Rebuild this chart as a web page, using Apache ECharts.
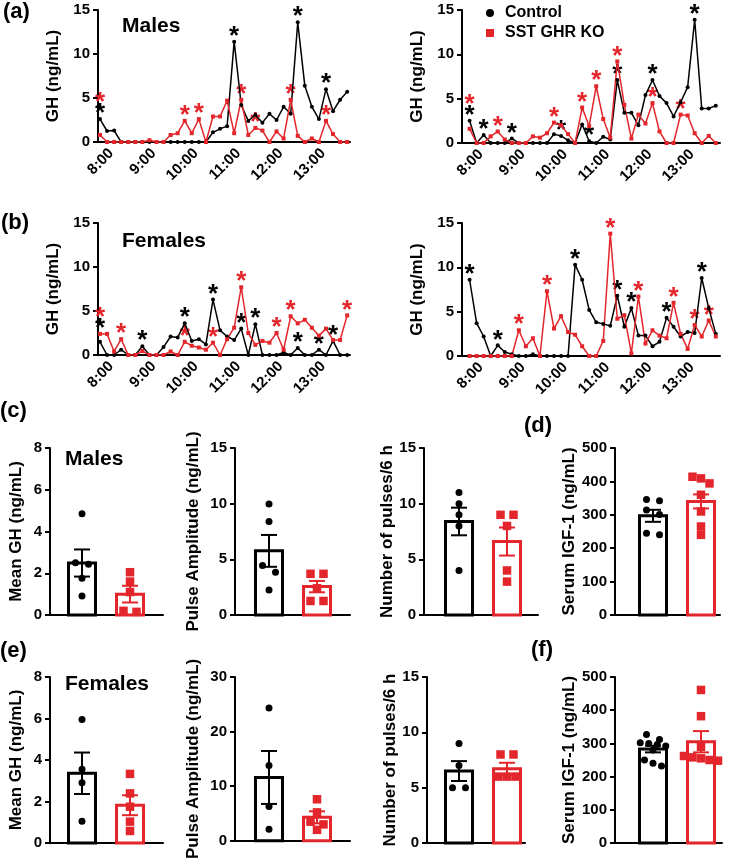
<!DOCTYPE html>
<html>
<head>
<meta charset="utf-8">
<script src="https://cdn.jsdelivr.net/npm/echarts@6/dist/echarts.min.js"></script>
<style>
  html, body { margin: 0; padding: 0; background: #fff; }
  #main { width: 735px; height: 861px; }
</style>
</head>
<body>
<div id="main"></div>
<script>
var RED = "#e3262b";
var FONT = "Liberation Sans";

// sampling every 10 min, 8:00 .. 13:50
var timeTicks = [0, 6, 12, 18, 24, 30];
var timeLabels = ["8:00", "9:00", "10:00", "11:00", "12:00", "13:00"];

// (a) males, GH ng/mL
var maleCtrl1 = [2.6, 1.25, 1.3, 0, 0, 0, 0, 0, 0, 0, 0, 0, 0, 0, 0, 0, 1.1, 1.5, 1.8, 11.4, 4.2, 2.4, 3.1, 2.2, 3.2, 2.5, 4.0, 3.2, 13.6, 6.4, 4.0, 2.6, 6.0, 3.5, 4.8, 5.7];
var maleKo1 = [0.8, 0, 0, 0, 0, 0, 0, 0.2, 0, 0, 0.8, 1.0, 2.4, 1.0, 2.6, 0, 2.9, 2.9, 4.7, 1.0, 4.8, 0.8, 1.6, 1.3, 0, 1.2, 0.4, 4.8, 0.7, 0, 0.4, 0, 2.4, 0.9, 0, 0];
var maleCtrl2 = [2.5, 0, 0.9, 0, 0, 0, 0.5, 0, 0, 0, 0, 0, 1.0, 0.8, 0.3, 0, 2.1, 0.2, 0, 0.7, 0.4, 7.1, 3.4, 3.4, 2.0, 5.4, 7.1, 5.3, 4.5, 3.0, 4.6, 6.3, 13.9, 3.9, 3.9, 4.2];
var maleKo2 = [1.6, 0, 0, 0.75, 1.3, 0.4, 0, 0, 0, 0.75, 0.6, 1.1, 2.3, 2.0, 1.0, 0, 4.0, 1.9, 6.4, 2.7, 0.6, 9.2, 4.3, 0.5, 3.2, 2.2, 4.5, 1.3, 0, 0, 3.2, 3.1, 1.1, 0, 0.8, 0];
// (b) females
var femaleCtrl1 = [1.5, 0, 0, 0.6, 0, 0, 1.0, 0, 0, 0.9, 2.1, 2.0, 3.6, 1.6, 1.8, 1.2, 6.3, 2.8, 2.1, 1.7, 3.0, 0, 3.5, 0, 0, 0, 0.3, 0, 0.8, 0, 0, 0.6, 0, 1.6, 0, 0];
var femaleKo1 = [2.4, 2.4, 0.4, 1.8, 0, 0, 0.45, 0, 0, 0, 0.4, 0, 1.5, 1.05, 0.85, 0.6, 1.4, 0, 1.8, 3.1, 7.7, 2.5, 1.15, 1.6, 1.4, 2.5, 0.6, 4.4, 3.6, 4.0, 3.1, 2.2, 3.0, 1.7, 1.7, 4.5];
var femaleCtrl2 = [8.6, 3.7, 2.2, 0, 1.2, 0.45, 0.2, 0, 0, 0.2, 0, 0, 0, 0, 0, 10.3, 8.6, 5.2, 3.8, 3.6, 3.4, 6.8, 3.3, 5.4, 2.3, 2.3, 1.1, 1.6, 4.3, 3.3, 2.2, 2.7, 2.6, 8.8, 5.4, 2.5];
var femaleKo2 = [0, 0, 0, 0, 0, 0, 0, 2.9, 1.1, 2.0, 0, 7.3, 3.1, 4.5, 2.7, 2.4, 1.1, 0, 0, 1.7, 13.8, 4.2, 4.6, 0.3, 6.7, 1.4, 2.9, 2.3, 2.0, 6.0, 2.5, 0.8, 3.5, 2.2, 4.0, 2.2];

// sample indices marked as pulses (*)
var maleCtrlPulse1 = [0, 19, 28, 32];
var maleKoPulse1 = [0, 12, 14, 20, 22, 27, 32];
var maleCtrlPulse2 = [0, 2, 6, 13, 17, 21, 26, 32];
var maleKoPulse2 = [0, 4, 12, 16, 18, 21, 26, 30];
var femaleCtrlPulse1 = [0, 6, 12, 16, 20, 22, 28, 31, 33];
var femaleKoPulse1 = [0, 3, 12, 16, 20, 25, 27, 35];
var femaleCtrlPulse2 = [0, 4, 15, 21, 23, 28, 33];
var femaleKoPulse2 = [7, 11, 20, 24, 29, 32, 34];

// (c) males: individual values, bar means and SEM [control, KO]
var cMeanCtrl = [4.85, 2.5, 2.43, 1.76, 0.91];
var cMeanKo = [2.05, 1.6, 1.1, 0.2, 0.15];
var cMeanBar = [2.49, 1.0];
var cMeanSem = [0.65, 0.4];
var cAmpCtrl = [9.96, 8.4, 4.44, 3.84, 2.25];
var cAmpKo = [3.7, 3.7, 2.4, 1.26, 1.26];
var cAmpBar = [5.76, 2.55];
var cAmpSem = [1.43, 0.51];
var cNumCtrl = [11, 10, 9, 8, 4];
var cNumKo = [9, 9, 8, 4, 3];
var cNumBar = [8.4, 6.6];
var cNumSem = [1.24, 1.26];
// (d) males IGF-1
var dIgfCtrl = [346, 342, 314, 301, 245, 240];
var dIgfKo = [414, 409, 394, 360, 310, 265, 240];
var dIgfBar = [297, 340];
var dIgfSem = [18, 21];
// (e) females
var eMeanCtrl = [5.95, 3.55, 2.9, 1.05];
var eMeanKo = [3.33, 2.39, 1.75, 1.03, 0.58];
var eMeanBar = [3.36, 1.82];
var eMeanSem = [1.0, 0.48];
var eAmpCtrl = [24.3, 13.8, 6.3, 2.1];
var eAmpKo = [7.6, 5.2, 3.5, 3.0, 2.0];
var eAmpBar = [11.6, 4.3];
var eAmpSem = [4.85, 1.1];
var eNumCtrl = [9, 7, 5, 5];
var eNumKo = [8, 8, 6, 6, 6];
var eNumBar = [6.5, 6.7];
var eNumSem = [0.9, 0.55];
// (f) females IGF-1
var fIgfCtrl = [327, 312, 302, 300, 297, 292, 280, 250, 240, 232];
var fIgfKo = [461, 382, 290, 262, 258, 255, 250, 248];
var fIgfBar = [283, 305];
var fIgfSem = [10, 32];

var chart = echarts.init(document.getElementById("main"), null, { renderer: "canvas" });

function bold(size, extra) {
  var o = { color: "#000", fontWeight: "bold", fontFamily: FONT, fontSize: size };
  for (var k in extra) o[k] = extra[k];
  return o;
}
var axisLine = { show: true, onZero: false, lineStyle: { color: "#000", width: 2 } };

var grids = [], xAxes = [], yAxes = [], series = [];

// ---- time course panels ----
var LABEL_SHIFT = 1.6; // time labels sit a little right of their tick, as in the original
var tsPanels = [
  { ctrl: maleCtrl1, ko: maleKo1, cp: maleCtrlPulse1, kp: maleKoPulse1, box: [98, 10, 252, 132], xr: [-0.28, 35.4] },
  { ctrl: maleCtrl2, ko: maleKo2, cp: maleCtrlPulse2, kp: maleKoPulse2, box: [462, 10, 258, 133], xr: [-1.08, 35.6] },
  { ctrl: femaleCtrl1, ko: femaleKo1, cp: femaleCtrlPulse1, kp: femaleKoPulse1, box: [98, 223, 252, 132], xr: [-0.28, 35.4] },
  { ctrl: femaleCtrl2, ko: femaleKo2, cp: femaleCtrlPulse2, kp: femaleKoPulse2, box: [462, 223, 258, 133], xr: [-1.08, 35.6] }
];

function starData(p) {
  var ppu = p.box[3] / 15, out = [];
  function stacked(i) {
    return p.cp.indexOf(i) >= 0 && p.kp.indexOf(i) >= 0 && Math.abs(p.ctrl[i] - p.ko[i]) * ppu < 17;
  }
  p.cp.forEach(function (i) {
    out.push([i, stacked(i) ? Math.max(p.ctrl[i], p.ko[i]) : p.ctrl[i], 0, 0]);
  });
  p.kp.forEach(function (i) {
    var s = stacked(i);
    out.push([i, s ? Math.max(p.ctrl[i], p.ko[i]) : p.ko[i], s ? 1 : 0, 1]);
  });
  return out;
}

tsPanels.forEach(function (p, k) {
  grids.push({ left: p.box[0], top: p.box[1], width: p.box[2], height: p.box[3] });
  xAxes.push({
    type: "value", gridIndex: k, min: p.xr[0], max: p.xr[1],
    axisLine: axisLine,
    axisTick: { show: false },
    splitLine: { show: false },
    axisLabel: {
      customValues: timeTicks.map(function (t) { return t + LABEL_SHIFT; }),
      formatter: function (v) { return timeLabels[timeTicks.indexOf(Math.round(v - LABEL_SHIFT))]; },
      rotate: 45, margin: 9, color: "#000", fontWeight: "bold", fontFamily: FONT, fontSize: 15
    }
  });
  yAxes.push({
    type: "value", gridIndex: k, min: 0, max: 15, interval: 5,
    name: "GH (ng/mL)", nameLocation: "middle", nameGap: 36,
    nameTextStyle: bold(17),
    axisLine: axisLine,
    axisTick: { show: true, length: 5, lineStyle: { color: "#000", width: 2 } },
    splitLine: { show: false },
    axisLabel: bold(15, { margin: 8 })
  });
  series.push({
    type: "line", name: "Control", xAxisIndex: k, yAxisIndex: k,
    data: p.ctrl.map(function (v, i) { return [i, v]; }),
    symbol: "circle", symbolSize: 4, showAllSymbol: true,
    lineStyle: { color: "#000", width: 1.5 }, itemStyle: { color: "#000" }
  });
  series.push({
    type: "line", name: "SST GHR KO", xAxisIndex: k, yAxisIndex: k,
    data: p.ko.map(function (v, i) { return [i, v]; }),
    symbol: "rect", symbolSize: 4, showAllSymbol: true,
    lineStyle: { color: RED, width: 1.5 }, itemStyle: { color: RED }
  });
  series.push({
    type: "custom", xAxisIndex: k, yAxisIndex: k, silent: true,
    data: starData(p),
    renderItem: function (params, api) {
      var pt = api.coord([api.value(0), api.value(1)]);
      return {
        type: "text", x: pt[0], y: pt[1] - 5 - api.value(2) * 11,
        style: {
          text: "*", fill: api.value(3) ? RED : "#000",
          font: "bold 26px " + FONT, align: "center", verticalAlign: "middle"
        }
      };
    }
  });
});

// ---- bar panels ----
// box: [axis x, top, axis end x, height], c0: x of control bar centre
var barPanels = [
  { name: "Mean GH (ng/mL)", max: 8, step: 2, gap: 25, dots: [cMeanCtrl, cMeanKo], bar: cMeanBar, sem: cMeanSem, box: [50, 448, 163, 167], c0: 82 },
  { name: "Pulse Amplitude (ng/mL)", max: 15, step: 5, gap: 33, dots: [cAmpCtrl, cAmpKo], bar: cAmpBar, sem: cAmpSem, box: [235, 448, 350, 167], c0: 269 },
  { name: "Number of pulses/6 h", max: 15, step: 5, gap: 26, dots: [cNumCtrl, cNumKo], bar: cNumBar, sem: cNumSem, box: [424, 448, 538, 167], c0: 459 },
  { name: "Serum IGF-1 (ng/mL)", max: 500, step: 100, gap: 36, dots: [dIgfCtrl, dIgfKo], bar: dIgfBar, sem: dIgfSem, box: [615, 448, 720, 167], c0: 653 },
  { name: "Mean GH (ng/mL)", max: 8, step: 2, gap: 25, dots: [eMeanCtrl, eMeanKo], bar: eMeanBar, sem: eMeanSem, box: [50, 677, 163, 166], c0: 82 },
  { name: "Pulse Amplitude (ng/mL)", max: 30, step: 10, gap: 33, dots: [eAmpCtrl, eAmpKo], bar: eAmpBar, sem: eAmpSem, box: [235, 677, 350, 166], c0: 269 },
  { name: "Number of pulses/6 h", max: 15, step: 5, gap: 26, dots: [eNumCtrl, eNumKo], bar: eNumBar, sem: eNumSem, box: [427, 677, 525, 166], c0: 459 },
  { name: "Serum IGF-1 (ng/mL)", max: 500, step: 100, gap: 36, dots: [fIgfCtrl, fIgfKo], bar: fIgfBar, sem: fIgfSem, box: [615, 677, 722, 166], c0: 653 }
];
var BAR_STEP = 48; // px between control and KO bar centres

function swarm(ys, gap) {
  var order = ys.map(function (y, i) { return i; }).sort(function (a, b) { return ys[a] - ys[b]; });
  var offs = ys.map(function () { return 0; });
  var row = [];
  function flush() {
    var n = row.length, s = n <= 2 ? 13 : 8.5;
    row.forEach(function (idx, j) { offs[idx] = (j - (n - 1) / 2) * s; });
    row = [];
  }
  order.forEach(function (idx) {
    if (row.length && ys[idx] - ys[row[0]] > gap) flush();
    row.push(idx);
  });
  flush();
  return offs;
}

barPanels.forEach(function (p, j) {
  var k = tsPanels.length + j;
  var b = p.box;
  grids.push({ left: b[0], top: b[1], width: b[2] - b[0], height: b[3] });
  xAxes.push({
    type: "value", gridIndex: k,
    min: (b[0] - p.c0) / BAR_STEP, max: 1 + (b[2] - p.c0 - BAR_STEP) / BAR_STEP,
    axisLine: axisLine,
    axisTick: { show: false }, axisLabel: { show: false }, splitLine: { show: false }
  });
  yAxes.push({
    type: "value", gridIndex: k, min: 0, max: p.max, interval: p.step,
    name: p.name, nameLocation: "middle", nameGap: p.gap,
    nameTextStyle: bold(17),
    axisLine: axisLine,
    axisTick: { show: true, length: 5, lineStyle: { color: "#000", width: 2 } },
    splitLine: { show: false },
    axisLabel: bold(15, { margin: 8 })
  });
  series.push({
    type: "custom", xAxisIndex: k, yAxisIndex: k, silent: true,
    data: [[0, p.bar[0], p.sem[0]], [1, p.bar[1], p.sem[1]]],
    renderItem: function (params, api) {
      var g = api.value(0), mean = api.value(1), sem = api.value(2);
      var col = g ? RED : "#000";
      var base = api.coord([g, 0]), top = api.coord([g, mean]);
      var hi = api.coord([g, mean + sem]), lo = api.coord([g, mean - sem]);
      var cx = base[0];
      var kids = [{
        type: "rect",
        shape: { x: cx - 13.5, y: top[1], width: 27, height: base[1] - top[1] },
        style: { fill: "#fff", stroke: col, lineWidth: 3 }
      }];
      var vals = p.dots[g];
      var ys = vals.map(function (v) { return api.coord([g, v])[1]; });
      var offs = swarm(ys, 7);
      ys.forEach(function (y, i) {
        if (g) {
          kids.push({ type: "rect", shape: { x: cx + offs[i] - 4.25, y: y - 4.25, width: 8.5, height: 8.5 }, style: { fill: RED } });
        } else {
          kids.push({ type: "circle", shape: { cx: cx + offs[i], cy: y, r: 3.5 }, style: { fill: "#000" } });
        }
      });
      var es = { stroke: col, lineWidth: 2 };
      kids.push({ type: "line", shape: { x1: cx, y1: hi[1], x2: cx, y2: lo[1] }, style: es });
      kids.push({ type: "line", shape: { x1: cx - 8, y1: hi[1], x2: cx + 8, y2: hi[1] }, style: es });
      kids.push({ type: "line", shape: { x1: cx - 8, y1: lo[1], x2: cx + 8, y2: lo[1] }, style: es });
      return { type: "group", children: kids };
    }
  });
});

function label(text, x, y, size) {
  return { type: "text", left: x, top: y, style: { text: text, fill: "#000", font: "bold " + size + "px " + FONT } };
}

var option = {
  animation: false,
  backgroundColor: "#fff",
  grid: grids,
  xAxis: xAxes,
  yAxis: yAxes,
  legend: {
    data: [{ name: "Control", icon: "circle" }, { name: "SST GHR KO", icon: "rect" }],
    orient: "vertical", left: 481, top: 0,
    itemWidth: 8, itemHeight: 8, itemGap: 4,
    textStyle: bold(16, { padding: [0, 0, 0, 6] }),
    selectedMode: false
  },
  graphic: [
    label("(a)", 3, 1, 22),
    label("Males", 122, 16, 21),
    label("(b)", 1, 212, 22),
    label("Females", 122, 231, 21),
    label("(c)", 0, 400, 22),
    label("Males", 65, 449, 21),
    label("(d)", 524, 415, 22),
    label("(e)", 0, 640, 22),
    label("Females", 65, 674, 21),
    label("(f)", 531, 639, 22)
  ],
  series: series
};

chart.setOption(option);
</script>
</body>
</html>
